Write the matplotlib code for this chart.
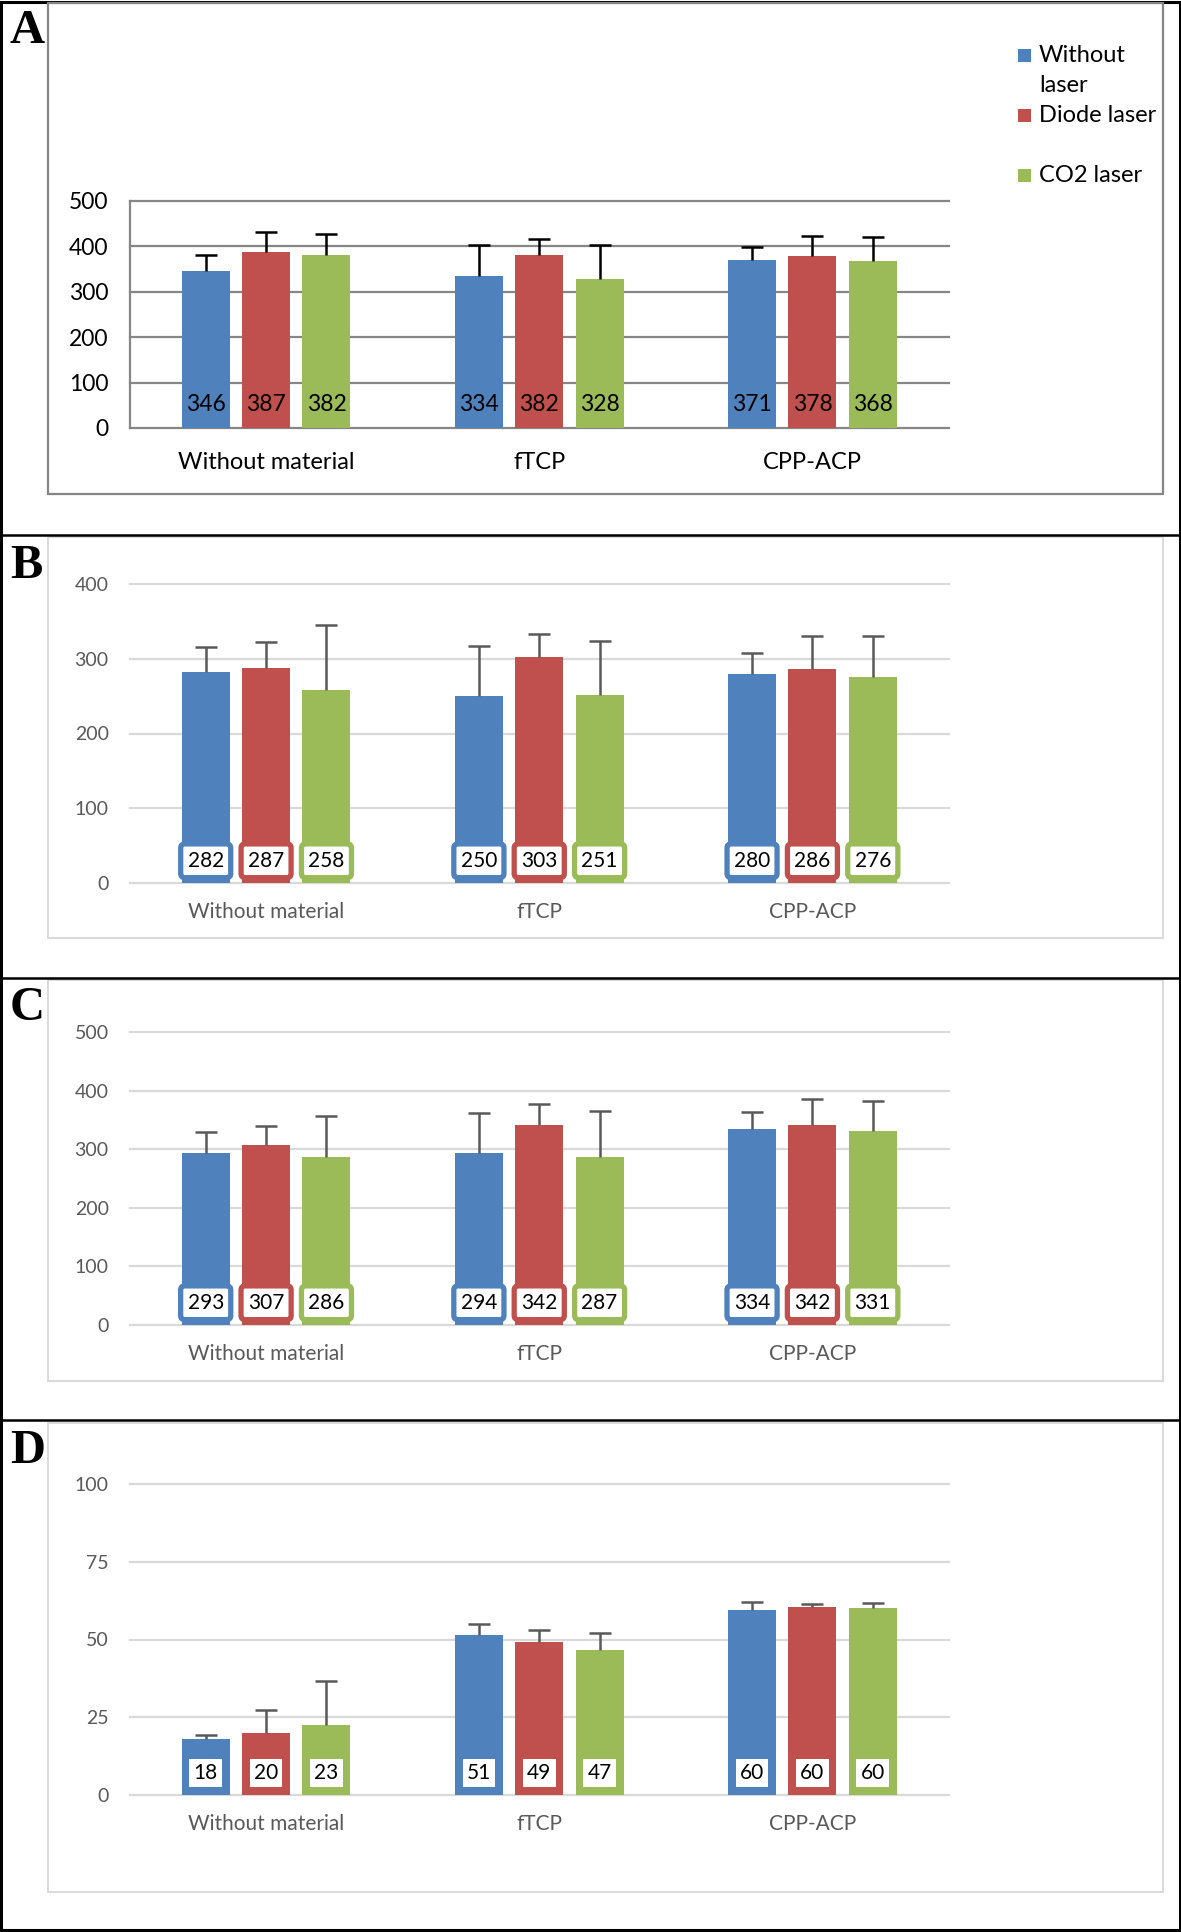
import matplotlib.pyplot as plt
from matplotlib.patches import Rectangle
import numpy as np

# figure is laid out in pixels (1181 x 1932 at dpi 100)
W, H = 1181, 1932
FONT = ["Lato", "DejaVu Sans"]
plt.rcParams["font.family"] = FONT

categories = ["Without material", "fTCP", "CPP-ACP"]
series = ["Without laser", "Diode laser", "CO2 laser"]
colors = ["#4F81BD", "#C0504D", "#9BBB59"]

# panel A
a_without = [346, 334, 371]
a_diode = [387, 382, 378]
a_co2 = [382, 328, 368]
a_err_without = [35, 69, 28]
a_err_diode = [45, 35, 44]
a_err_co2 = [45, 76, 52]

# panel B
b_without = [282, 250, 280]
b_diode = [287, 303, 286]
b_co2 = [258, 251, 276]
b_err_without = [34, 67, 28]
b_err_diode = [36, 30, 44]
b_err_co2 = [87, 73, 54]

# panel C
c_without = [293, 294, 334]
c_diode = [307, 342, 342]
c_co2 = [286, 287, 331]
c_err_without = [36, 67, 29]
c_err_diode = [32, 35, 44]
c_err_co2 = [71, 78, 52]

# panel D
d_without = [17.9, 51.4, 59.6]
d_diode = [19.9, 49.2, 60.3]
d_co2 = [22.6, 46.6, 60.1]
d_err_without = [1.5, 3.7, 2.3]
d_err_diode = [7.3, 4.0, 1.0]
d_err_co2 = [14.0, 5.6, 1.7]

panels = [
    ("A", [a_without, a_diode, a_co2], [a_err_without, a_err_diode, a_err_co2], 500, 100),
    ("B", [b_without, b_diode, b_co2], [b_err_without, b_err_diode, b_err_co2], 400, 100),
    ("C", [c_without, c_diode, c_co2], [c_err_without, c_err_diode, c_err_co2], 500, 100),
    ("D", [d_without, d_diode, d_co2], [d_err_without, d_err_diode, d_err_co2], 100, 25),
]

# pixel layout: (axes top, axes bottom, box top, box bottom, letter top)
layout = {
    "A": (201, 428, 2.5, 494, 9),
    "B": (584, 883, 537.5, 938, 544),
    "C": (1032, 1325, 980, 1381, 986),
    "D": (1484, 1795, 1423, 1892, 1429),
}
AX_L, AX_R = 129.5, 949
BOX_L, BOX_R = 48, 1163
separators = [535, 977.5, 1420]


def fx(px):
    return px / W


def fy(py):
    return 1 - py / H


fig = plt.figure(figsize=(W / 100, H / 100), dpi=100)

# outer frame and panel separators
fig.add_artist(Rectangle((0.0012, 0.0008), 0.9976, 0.9984, transform=fig.transFigure,
                         fill=False, ec="black", lw=2.2))
for s in separators:
    fig.add_artist(plt.Line2D([0, 1], [fy(s), fy(s)], transform=fig.transFigure,
                              color="black", lw=1.8))

x = np.arange(len(categories))
step = 0.221
width = 0.176

for name, vals, errs, ymax, ystep in panels:
    ax_top, ax_bot, box_top, box_bot, let_top = layout[name]
    first = name == "A"
    grid_col = "#868686" if first else "#d9d9d9"
    txt_col = "black" if first else "#595959"
    err_col = "black" if first else "#595959"

    # grey frame of the chart area
    fig.add_artist(Rectangle((fx(BOX_L), fy(box_bot)), fx(BOX_R - BOX_L), (box_bot - box_top) / H,
                             transform=fig.transFigure, fill=False, ec=grid_col,
                             lw=1.6 if first else 1.4))
    fig.text(fx(10), fy(let_top), name, family="Liberation Serif", fontweight="bold",
             fontsize=35, va="top", ha="left")

    ax = fig.add_axes([fx(AX_L), fy(ax_bot), fx(AX_R - AX_L), (ax_bot - ax_top) / H])
    ax.set_xlim(-0.5, 2.5)
    ax.set_ylim(0, ymax)
    ax.set_yticks(np.arange(0, ymax + 1, ystep))
    ax.set_xticks(x)
    ax.set_xticklabels(categories)
    ax.yaxis.grid(True, color=grid_col, lw=1.6, clip_on=False)
    ax.set_axisbelow(True)
    for sp in ax.spines.values():
        sp.set_visible(False)
    if first:
        ax.spines["left"].set_visible(True)
        ax.spines["left"].set_color(grid_col)
        ax.spines["left"].set_linewidth(1.6)
    ax.tick_params(length=0, colors=txt_col)
    ax.tick_params(axis="y", labelsize=16.5 if first else 14, pad=15 if first else 15)
    ax.tick_params(axis="x", labelsize=17 if first else 15, pad=17 if first else 14)

    for i, (v, e, c) in enumerate(zip(vals, errs, colors)):
        pos = x + (i - 1) * step
        ax.bar(pos, v, width, color=c, zorder=2)
        eb = ax.errorbar(pos, v, yerr=[np.zeros(len(e)), e], fmt="none", ecolor=err_col,
                         elinewidth=1.8, capsize=8, capthick=1.8, zorder=3)
        # only the upper cap is drawn in the original
        for cl in eb[1]:
            if np.allclose(cl.get_ydata(), v):
                cl.set_visible(False)
        for p, val in zip(pos, v):
            lab = f"{val:.0f}"
            if name == "A":
                ax.annotate(lab, (p, 0), xytext=(0, 17), textcoords="offset points",
                            ha="center", va="center", fontsize=16.5, color="black", zorder=4)
            elif name == "D":
                ax.annotate(lab, (p, 0), xytext=(0, 16), textcoords="offset points",
                            ha="center", va="center", fontsize=15, color="black", zorder=4,
                            bbox=dict(boxstyle="square,pad=0.2", fc="white", ec="none"))
            else:
                ax.annotate(lab, (p, 0), xytext=(0, 16), textcoords="offset points",
                            ha="center", va="center", fontsize=15, color="black", zorder=4,
                            bbox=dict(boxstyle="round,pad=0.33,rounding_size=0.2",
                                      fc="white", ec=c, lw=3.8))

# legend of panel A, drawn by hand to keep the Excel spacing
legend_lines = [["Without", "laser"], ["Diode laser"], ["CO2 laser"]]
legend_y = [55, 115, 175]
for lines, ly, c in zip(legend_lines, legend_y, colors):
    fig.add_artist(Rectangle((fx(1018), fy(ly + 6.5)), fx(13), 13 / H,
                             transform=fig.transFigure, fc=c, ec="none"))
    for k, t in enumerate(lines):
        fig.text(fx(1039), fy(ly + 31 * k), t, fontsize=17, va="center", ha="left")

fig.savefig("out.png", dpi=100)
